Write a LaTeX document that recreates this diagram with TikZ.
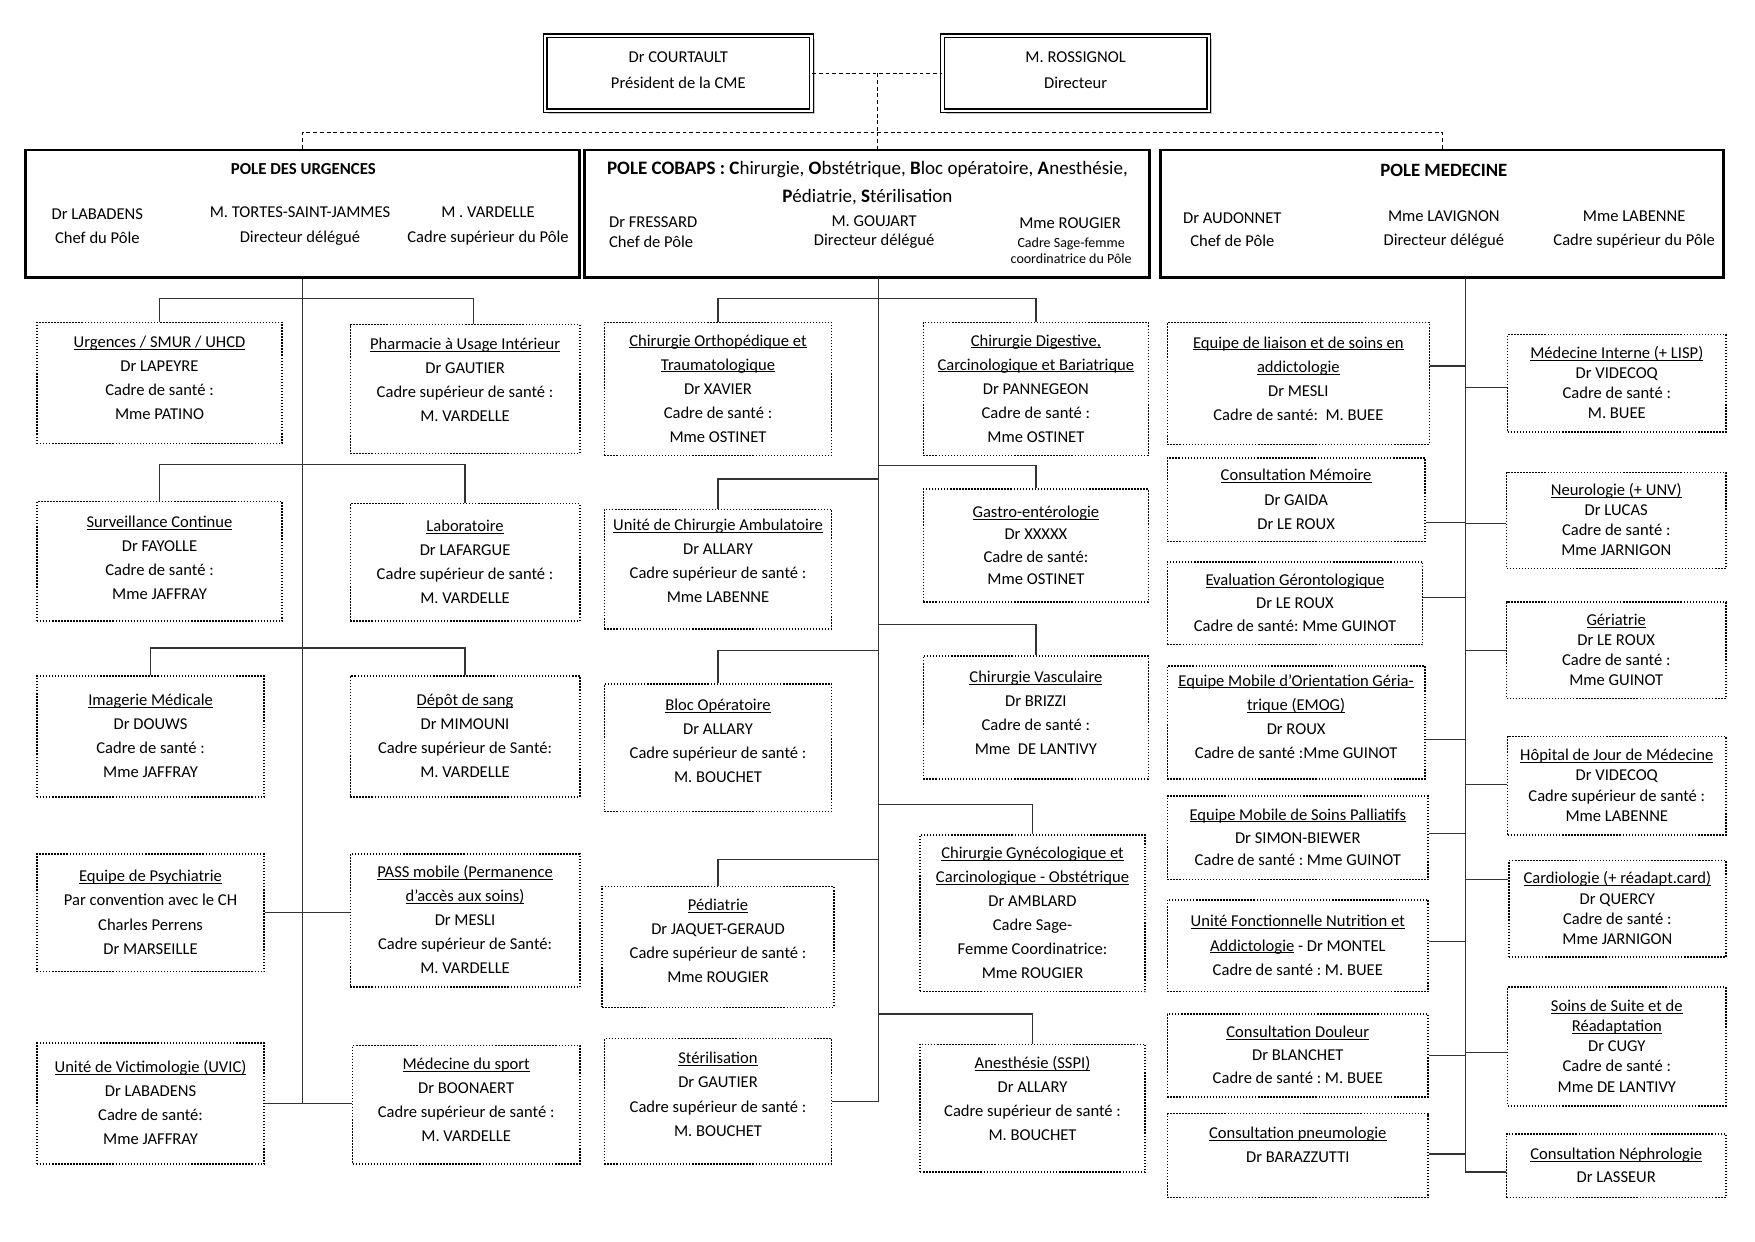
\documentclass[tikz,border=0pt]{standalone}
\usepackage{fontspec}
\setmainfont{Carlito}
\usetikzlibrary{shadows}
\frenchspacing

\newcommand{\und}[1]{\underline{\smash{#1}\vphantom{A}}}
\newcommand{\bodyfont}{\fontsize{14.8}{21.5}\selectfont}
\newcommand{\tightfont}{\fontsize{14.8}{18}\selectfont}

\begin{document}
\begin{tikzpicture}[
  x=1pt, y=-1pt,
  chief/.style={draw, double, line width=1.1pt, double distance=2.2pt, fill=white, minimum width=238pt, minimum height=67pt, align=center, font=\fontsize{14.8}{23}\selectfont, drop shadow={shadow xshift=3pt, shadow yshift=-3pt, fill=black!45}},
  pole/.style={draw, line width=2.6pt, minimum height=114pt},
  ptxt/.style={align=center, inner sep=0pt, font=\fontsize{14.8}{22}\selectfont},
  svc/.style={draw, line width=1.3pt, dash pattern=on 1.3pt off 1.4pt, align=center, font=\bodyfont},
  svcr/.style={svc, font=\tightfont},
  link/.style={line width=1.1pt, draw=black!80},
  dlink/.style={line width=0.8pt, dash pattern=on 3.5pt off 2.5pt}
]
\useasboundingbox (0,0) rectangle (1568,1109);

% direction
\node[chief] (cme) at (606,65.5) {Dr COURTAULT\\Président de la CME\\[-17pt]};
\node[chief] (dir) at (961,65.5) {M. ROSSIGNOL\\Directeur\\[-17pt]};

% poles
\node[pole, minimum width=495pt] (purg) at (270.5,191) {};
\node[pole, minimum width=505pt] (pcob) at (774.5,191) {};
\node[pole, minimum width=503pt] (pmed) at (1288.5,191) {};

\node[ptxt, font=\fontsize{15}{18}\selectfont\bfseries] (urg-t) at (271,151) {POLE DES URGENCES};
\node[ptxt] (urg-a) at (87,202) {Dr LABADENS\\Chef du Pôle};
\node[ptxt] (urg-b) at (268,202) {M. TORTES-SAINT-JAMMES\\Directeur délégué};
\node[ptxt] (urg-c) at (436,202) {M . VARDELLE\\Cadre supérieur du Pôle};

\node[ptxt, font=\fontsize{17}{25}\selectfont] (cob-t) at (775,163.5) {\textbf{POLE COBAPS :} \textbf{C}hirurgie, \textbf{O}bstétrique, \textbf{B}loc opératoire, \textbf{A}nesthésie,\\\textbf{P}édiatrie, \textbf{S}térilisation};
\node[ptxt, align=left, anchor=west, font=\fontsize{14.8}{17.5}\selectfont] (cob-a) at (544,207.5) {Dr FRESSARD\\Chef de Pôle};
\node[ptxt, font=\fontsize{14.8}{17.5}\selectfont] (cob-b) at (781,207.5) {M. GOUJART\\Directeur délégué};
\node[ptxt] (cob-c) at (956,199) {Mme ROUGIER};
\node[ptxt, font=\fontsize{12.5}{15}\selectfont] (cob-d) at (957,224) {Cadre Sage-femme\\coordinatrice du Pôle};

\node[ptxt, font=\fontsize{16.8}{20}\selectfont\bfseries] (med-t) at (1290,152) {POLE MEDECINE};
\node[ptxt, font=\fontsize{14.8}{21}\selectfont] (med-a) at (1101,205) {Dr AUDONNET\\Chef de Pôle};
\node[ptxt, font=\fontsize{14.8}{21}\selectfont] (med-b) at (1290,205) {Mme LAVIGNON\\Directeur délégué};
\node[ptxt, font=\fontsize{14.8}{21}\selectfont] (med-c) at (1460,205) {Mme LABENNE\\Cadre supérieur du Pôle};

\coordinate (top) at (784,118);
\draw[dlink] (cme.east) -- (dir.west);
\draw[dlink] (cme.east -| top) -- (top);
\draw[dlink] (purg.north) |- (top) -| (pmed.north);
\draw[dlink] (top) -- (top |- pcob.north);

% pole des urgences
\node[svc, minimum width=219pt, minimum height=108pt] (smur) at (142.5,342) {\und{Urgences / SMUR / UHCD}\\Dr LAPEYRE\\Cadre de santé :\\Mme PATINO\\[-13.5pt]};
\node[svc, minimum width=205pt, minimum height=115pt] (phar) at (415.5,347.5) {\und{Pharmacie à Usage Intérieur}\\Dr GAUTIER\\Cadre supérieur de santé :\\M. VARDELLE\\[-5.5pt]};
\node[svc, minimum width=219pt, minimum height=107pt] (surv) at (142.5,501.5) {\und{Surveillance Continue}\\Dr FAYOLLE\\Cadre de santé :\\Mme JAFFRAY\\[-15.5pt]};
\node[svc, minimum width=205pt, minimum height=105pt] (labo) at (415.5,502.5) {\und{Laboratoire}\\Dr LAFARGUE\\Cadre supérieur de santé :\\M. VARDELLE};
\node[svc, minimum width=203pt, minimum height=108pt] (imag) at (134.5,658) {\und{Imagerie Médicale}\\Dr DOUWS\\Cadre de santé :\\Mme JAFFRAY};
\node[svc, minimum width=205pt, minimum height=108pt] (sang) at (415.5,658) {\und{Dépôt de sang}\\Dr MIMOUNI\\Cadre supérieur de Santé:\\M. VARDELLE};
\node[svc, minimum width=203pt, minimum height=105pt] (psy) at (134.5,815.5) {\und{Equipe de Psychiatrie}\\Par convention avec le CH\\Charles Perrens\\Dr MARSEILLE};
\node[svc, minimum width=205pt, minimum height=119pt] (pass) at (415.5,822.5) {\und{PASS mobile (Permanence}\\\und{d’accès aux soins)}\\Dr MESLI\\Cadre supérieur de Santé:\\M. VARDELLE};
\node[svc, minimum width=203pt, minimum height=108pt] (victim) at (134.5,986) {\und{Unité de Victimologie (UVIC)}\\Dr LABADENS\\Cadre de santé:\\Mme JAFFRAY};
\node[svc, minimum width=203pt, minimum height=106pt] (sport) at (416.5,987) {\und{Médecine du sport}\\Dr BOONAERT\\Cadre supérieur de santé :\\M. VARDELLE\\[-13.5pt]};

\coordinate (u1) at (270.5,267);
\coordinate (u2) at (270.5,415);
\coordinate (u3) at (270.5,579);
\draw[link] (purg.south) -- (purg.south |- victim.east);
\draw[link] (smur.north) |- (u1) -| ([xshift=7.5pt]phar.north);
\draw[link] (surv.north) |- (u2) -| (labo.north);
\draw[link] (imag.north) |- (u3) -| (sang.north);
\draw[link] (psy.east) -- (psy.east -| pass.west);
\draw[link] (victim.east) -- (victim.east -| sport.west);

% pole cobaps
\node[svc, minimum width=203pt, minimum height=119pt] (ortho) at (641.5,347.5) {\und{Chirurgie Orthopédique et}\\\und{Traumatologique}\\Dr XAVIER\\Cadre de santé :\\Mme OSTINET};
\node[svc, minimum width=201pt, minimum height=119pt] (digest) at (925.5,347.5) {\und{Chirurgie Digestive,}\\\und{Carcinologique et Bariatrique}\\Dr PANNEGEON\\Cadre de santé :\\Mme OSTINET};
\node[svc, minimum width=203pt, minimum height=107pt] (uca) at (641.5,508.5) {\und{Unité de Chirurgie Ambulatoire}\\Dr ALLARY\\Cadre supérieur de santé :\\Mme LABENNE\\[-7.5pt]};
\node[svc, minimum width=201pt, minimum height=101pt, font=\fontsize{14.8}{20}\selectfont] (gastro) at (925.5,487.5) {\und{Gastro-entérologie}\\Dr XXXXX\\Cadre de santé:\\Mme OSTINET};
\node[svc, minimum width=201pt, minimum height=110pt] (vasc) at (925.5,641) {\und{Chirurgie Vasculaire}\\Dr BRIZZI\\Cadre de santé :\\Mme~~DE LANTIVY\\[-13.5pt]};
\node[svc, minimum width=203pt, minimum height=114pt] (bloc) at (641.5,668) {\und{Bloc Opératoire}\\Dr ALLARY\\Cadre supérieur de santé :\\M. BOUCHET\\[-9.5pt]};
\node[svc, minimum width=201pt, minimum height=140pt] (gyn) at (922.5,816) {\und{Chirurgie Gynécologique et}\\\und{Carcinologique - Obstétrique}\\Dr AMBLARD\\Cadre Sage-\\Femme Coordinatrice:\\Mme ROUGIER};
\node[svc, minimum width=207pt, minimum height=108pt] (pedia) at (641.5,846) {\und{Pédiatrie}\\Dr JAQUET-GERAUD\\Cadre supérieur de santé :\\Mme ROUGIER\\[-11.5pt]};
\node[svc, minimum width=201pt, minimum height=114pt] (anest) at (922.5,990) {\und{Anesthésie (SSPI)}\\Dr ALLARY\\Cadre supérieur de santé :\\M. BOUCHET\\[-5.5pt]};
\node[svc, minimum width=203pt, minimum height=112pt] (steril) at (641.5,984) {\und{Stérilisation}\\Dr GAUTIER\\Cadre supérieur de santé :\\M. BOUCHET\\[-9.5pt]};

\coordinate (c0) at (785,248);
\coordinate (c1) at (785,267);
\coordinate (c2) at (785,416);
\coordinate (c3) at (785,428);
\coordinate (c4) at (785,558);
\coordinate (c5) at (785,581);
\coordinate (c6) at (785,719);
\coordinate (c7) at (785,768);
\coordinate (c8) at (785,906);
\draw[link] (c0) -- (c0 |- steril.east);
\draw[link] (ortho.north) |- (c1) -| (digest.north);
\draw[link] (c2) -| (gastro.north);
\draw[link] (c3) -| (uca.north);
\draw[link] (c4) -| (vasc.north);
\draw[link] (c5) -| (bloc.north);
\draw[link] (c6) -| (gyn.north);
\draw[link] (c7) -| (pedia.north);
\draw[link] (c8) -| (anest.north);
\draw[link] (steril.east) -- (steril.east -| c0);

% pole medecine
\node[svc, minimum width=234pt, minimum height=109pt] (liaison) at (1160,342.5) {\und{Equipe de liaison et de soins en}\\\und{addictologie}\\Dr MESLI\\Cadre de santé:~~M. BUEE\\[-13.5pt]};
\node[svc, minimum width=230pt, minimum height=75pt] (memoire) at (1158,446.5) {\und{Consultation Mémoire}\\Dr GAIDA\\Dr LE ROUX};
\node[svc, minimum width=228pt, minimum height=74pt, font=\fontsize{14.8}{20.5}\selectfont] (evalger) at (1157,539) {\und{Evaluation Gérontologique}\\Dr LE ROUX\\Cadre de santé: Mme GUINOT};
\node[svc, minimum width=230pt, minimum height=101pt] (emog) at (1158,645.5) {\und{Equipe Mobile d’Orientation Géria-}\\\und{trique (EMOG)}\\Dr ROUX\\Cadre de santé :Mme GUINOT\\[-11.5pt]};
\node[svc, minimum width=233pt, minimum height=75pt, font=\fontsize{14.8}{20.5}\selectfont] (palli) at (1159.5,748.5) {\und{Equipe Mobile de Soins Palliatifs}\\Dr SIMON-BIEWER\\Cadre de santé : Mme GUINOT};
\node[svc, minimum width=233pt, minimum height=82pt] (nutri) at (1159.5,845) {\und{Unité Fonctionnelle Nutrition et}\\\und{Addictologie} - Dr MONTEL\\Cadre de santé : M. BUEE};
\node[svc, minimum width=233pt, minimum height=74pt, font=\fontsize{14.8}{20.5}\selectfont] (douleur) at (1159.5,943) {\und{Consultation Douleur}\\Dr BLANCHET\\Cadre de santé : M. BUEE};
\node[svc, minimum width=233pt, minimum height=75pt] (pneumo) at (1159.5,1032.5) {\und{Consultation pneumologie}\\Dr BARAZZUTTI\\[-3.5pt]};

\node[svcr, minimum width=195pt, minimum height=87pt] (minterne) at (1444.5,342.5) {\und{Médecine Interne (+ LISP)}\\Dr VIDECOQ\\Cadre de santé :\\M. BUEE};
\node[svcr, minimum width=196pt, minimum height=86pt] (neuro) at (1444,465) {\und{Neurologie (+ UNV)}\\Dr LUCAS\\Cadre de santé :\\Mme JARNIGON};
\node[svcr, minimum width=196pt, minimum height=86pt] (geria) at (1444,581) {\und{Gériatrie}\\Dr LE ROUX\\Cadre de santé :\\Mme GUINOT};
\node[svcr, minimum width=195pt, minimum height=88pt] (hdj) at (1444.5,702) {\und{Hôpital de Jour de Médecine}\\Dr VIDECOQ\\Cadre supérieur de santé :\\Mme LABENNE};
\node[svcr, minimum width=194pt, minimum height=86pt] (cardio) at (1445,812) {\und{Cardiologie (+ réadapt.card)}\\Dr QUERCY\\Cadre de santé :\\Mme JARNIGON};
\node[svcr, minimum width=195pt, minimum height=106pt] (ssr) at (1444.5,935) {\und{Soins de Suite et de}\\\und{Réadaptation}\\Dr CUGY\\Cadre de santé :\\Mme DE LANTIVY};
\node[svcr, minimum width=196pt, minimum height=57pt, font=\fontsize{14.8}{21}\selectfont] (nephro) at (1444,1041.5) {\und{Consultation Néphrologie}\\Dr LASSEUR};

\coordinate (m0) at (1309,248);
\draw[link] (m0) -- (m0 |- 0,1047);
\foreach \n/\y in {liaison/327, memoire/467, evalger/534, emog/661, palli/745, nutri/841, douleur/943, pneumo/1031}
  \draw[link] (\n.east |- 0,\y) -- (m0 |- 0,\y);
\foreach \n/\y in {minterne/346, neuro/468, geria/581, hdj/701, cardio/786, ssr/940, nephro/1047}
  \draw[link] (m0 |- 0,\y) -- (\n.west |- 0,\y);
\end{tikzpicture}
\end{document}
